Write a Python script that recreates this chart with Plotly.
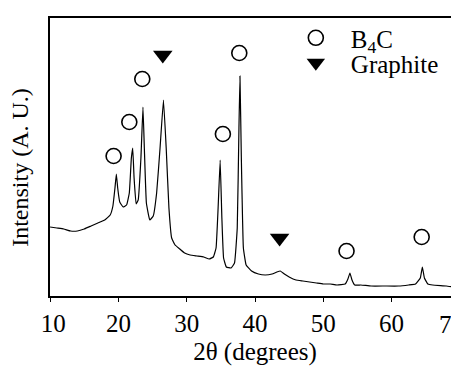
import plotly.graph_objects as go

# XRD pattern (2theta in degrees, intensity in arbitrary units)
two_theta = [10, 11, 12, 13, 14, 15, 16, 17, 18, 18.8, 19.2, 19.5, 19.7, 19.9, 20.2, 20.7,
             21.2, 21.6, 21.9, 22.1, 22.3, 22.6, 22.9, 23.3, 23.6, 23.8, 24.1, 24.6, 25.1,
             25.6, 26.1, 26.6, 27.0, 27.4, 27.8, 28.3, 29, 29.7, 30.5, 31.5, 32.5, 33.3,
             33.9, 34.3, 34.6, 34.9, 35.15, 35.4, 35.8, 36.5, 37.0, 37.4, 37.65, 37.8, 38.0,
             38.3, 38.7, 39.5, 40.5, 41.5, 42.5, 43.2, 43.7, 44.3, 45, 46, 47, 48, 49, 50,
             51, 52, 53.2, 53.6, 53.9, 54.2, 54.6, 55.5, 57, 59, 61, 62.5, 63.5, 64.2, 64.5,
             64.8, 65.3, 66, 68, 69, 70]
intensity = [69, 68, 67, 65, 65, 67, 70, 73, 76, 81, 90, 108, 122, 108, 94, 89,
             91, 103, 138, 148, 118, 92, 96, 138, 189, 148, 93, 76, 80,
             103, 148, 196, 148, 88, 58, 51, 47, 43, 41, 40, 39, 37,
             39, 48, 88, 136, 78, 38, 29, 28, 33, 68, 168, 220, 138,
             48, 31, 25, 22, 21, 22, 24, 25, 22, 19, 16, 15, 14, 13, 12,
             12, 11, 12, 17, 23, 16, 11, 11, 10, 10, 10, 11, 12, 18, 29,
             18, 12, 11, 10, 9, 8]

# Phase markers (position and label height)
b4c_theta = [19.3, 21.6, 23.5, 35.3, 37.7, 53.4, 64.4]
b4c_level = [140, 174, 217, 162, 243, 45, 59]
graphite_theta = [26.5, 43.6]
graphite_level = [241, 58]

x_ticks = [10, 20, 30, 40, 50, 60, 70]
# the last label is drawn separately so that it stays inside the picture
x_tick_labels = ["\u00a010", "20", "30", "40", "50", "60", ""]
last_tick_label = "70"

serif = "Liberation Serif"

fig = go.Figure()
fig.add_trace(go.Scatter(x=two_theta, y=intensity, mode="lines",
                         line=dict(color="black", width=1.2, shape="spline", smoothing=0.3),
                         showlegend=False, hoverinfo="skip"))
fig.add_trace(go.Scatter(x=b4c_theta, y=b4c_level, mode="markers", name="B<sub>4</sub>C",
                         legend="legend",
                         marker=dict(symbol="circle-open", size=15, color="black",
                                     line=dict(width=1.6, color="black"))))
fig.add_trace(go.Scatter(x=graphite_theta, y=graphite_level, mode="markers", name="Graphite",
                         legend="legend2",
                         marker=dict(symbol="triangle-down", size=17, color="black")))

legend_common = dict(xanchor="left", yanchor="middle", bgcolor="rgba(0,0,0,0)",
                     font=dict(family=serif, size=25, color="black"),
                     itemsizing="trace", itemwidth=60)

fig.update_layout(
    width=459, height=368,
    margin=dict(l=42, r=7, t=10, b=80, autoexpand=False),
    paper_bgcolor="white", plot_bgcolor="white",
    font=dict(family=serif, size=25, color="black"),
    showlegend=True,
    legend=dict(x=0.563, y=0.928, **legend_common),
    legend2=dict(x=0.563, y=0.838, **legend_common),
    xaxis=dict(range=[9.99, 70.01], tickvals=x_ticks, ticktext=x_tick_labels,
               showgrid=False, zeroline=False, showline=True, linecolor="black",
               linewidth=1.5, mirror=True, ticks="outside", ticklen=4, tickwidth=1.2,
               tickcolor="black", automargin=False,
               tickfont=dict(family=serif, size=25, color="black"),
               title=dict(text="2θ (degrees)", font=dict(family=serif, size=25, color="black"), standoff=7)),
    yaxis=dict(range=[0, 278], showticklabels=False, ticks="", showgrid=False,
               zeroline=False, showline=True, linecolor="black", linewidth=1.5, mirror=True,
               automargin=False),
    annotations=[
        dict(text="Intensity (A. U.)", textangle=-90, xref="paper", yref="paper",
             x=-0.075, y=0.462, xanchor="center", yanchor="middle", showarrow=False,
             font=dict(family=serif, size=24, color="black")),
        dict(text=last_tick_label, xref="paper", yref="paper", x=1.0146, y=-0.102,
             xanchor="right", yanchor="middle", showarrow=False,
             font=dict(family=serif, size=25, color="black")),
    ],
)

fig.write_html("out.html")
